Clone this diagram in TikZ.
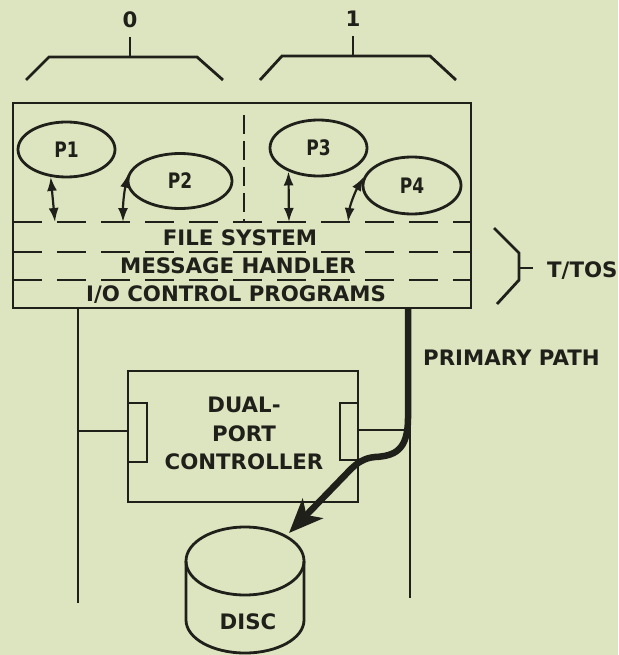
\documentclass[tikz,border=0pt]{standalone}
\usepackage{fontspec}
\setmainfont{DejaVu Sans}
\usetikzlibrary{shapes.geometric,arrows.meta}
\definecolor{bg}{RGB}{221,229,192}
\definecolor{ink}{RGB}{32,32,26}
\begin{document}
\begin{tikzpicture}[x=1pt,y=-1pt,
  every node/.style={text=ink, font=\fontsize{21.3}{28.5}\selectfont\bfseries, inner sep=0pt},
  ln/.style={draw=ink, line width=2.8pt},
  bus/.style={draw=ink, line width=2.3pt},
  proc/.style={ellipse, draw=ink, line width=2.8pt, inner sep=0pt},
  layer/.style={draw=ink, line width=2.6pt, dash pattern=on 29pt off 15pt},
  vsep/.style={draw=ink, line width=2.6pt, dash pattern=on 19pt off 7pt},
  twoway/.style={draw=ink, line width=2.2pt, {Latex[length=14pt,width=10pt]}-{Latex[length=14pt,width=10pt]}},
  primary/.style={draw=ink, line width=6.5pt, -{Stealth[length=34pt,width=28pt,inset=9pt]}},
]
\fill[bg] (0,0) rectangle (618,655);
\useasboundingbox (0,0) rectangle (618,655);

% processor labels and brackets
\node (n0) at (130,20) {0};
\node (n1) at (353,19) {1};
\draw[ln] ([yshift=-9pt]n0.south) -- (130,57);
\draw[ln] (26,80) -- (49,57) -- (197,57) -- (223,80);
\draw[ln] ([yshift=-9pt]n1.south) -- (353,56);
\draw[ln] (260,80) -- (282,56) -- (430,56) -- (456,80);

% main box
\node[ln, minimum width=458pt, minimum height=205pt] (main) at (242,205.5) {};
\draw[vsep] (244,115) -- (244,222);
\draw[layer] (13,222) -- (471,222);
\draw[layer] (13,252) -- (471,252);
\draw[layer] (13,280) -- (471,280);
\node[anchor=base] (fs) at (240,245) {FILE SYSTEM};
\node[anchor=base] (mh) at (238,273) {MESSAGE HANDLER};
\node[anchor=base] (io) at (236,301.5) {I/O CONTROL PROGRAMS};

% processes
\node[proc, minimum width=97pt, minimum height=55pt] (P1) at (66.5,149.5) {\scalebox{0.8}[1]{P1}};
\node[proc, minimum width=104pt, minimum height=55pt] (P2) at (180,181) {\scalebox{0.8}[1]{P2}};
\node[proc, minimum width=97pt, minimum height=56pt] (P3) at (318.5,148) {\scalebox{0.8}[1]{P3}};
\node[proc, minimum width=98pt, minimum height=57pt] (P4) at (412,185.5) {\scalebox{0.8}[1]{P4}};
\coordinate (a1) at (55,222);
\coordinate (a2) at (123,222);
\coordinate (a3) at (289,222);
\coordinate (a4) at (348,222);
\draw[twoway] (P1.240) -- (a1);
\draw[twoway] (a2) .. controls (123,200) and (125,188) .. (P2.172);
\draw[twoway] (P3.218) -- (a3);
\draw[twoway] (a4) .. controls (350,205) and (355,192) .. (P4.170);

% T/TOS brace
\coordinate (bt) at (519,268);
\draw[ln] (494,228) -- (519,253) -- (519,280) -- (497,304);
\node[anchor=base west] (tt) at (547,277.5) {T/TOS};
\draw[ln] (bt) -- (533,268);

% primary path label
\node[anchor=base west] (pp) at (423,365) {PRIMARY PATH};

% controller
\node[ln, minimum width=230pt, minimum height=131pt] (ctl) at (243,436.5) {};
\node[ln, minimum width=19pt, minimum height=59pt] (pl) at (137.5,432.5) {};
\node[ln, minimum width=18pt, minimum height=57pt] (pr) at (349,431.5) {};
\node[align=center] (ctltext) at (244,433.7) {DUAL-\\PORT\\CONTROLLER};

% buses
\coordinate (lbtop) at (78,308);
\coordinate (lbbot) at (78,603);
\coordinate (lbj) at (78,431);
\coordinate (rbtop) at (410,308);
\coordinate (rbbot) at (410,598);
\coordinate (rbj) at (410,430);
\draw[bus] (lbtop) -- (lbbot);
\draw[bus] (lbj) -- (ctl.west |- lbj);
\draw[bus] (rbtop) -- (rbbot);
\draw[bus] (ctl.east |- rbj) -- (rbj);

% disc
\draw[ln] (186,561) -- (186,620) arc[start angle=180,end angle=0,x radius=59,y radius=33] -- (304,561);
\draw[ln] (245,561) ellipse [x radius=59, y radius=34];
\node[anchor=base] (disc) at (248,629) {DISC};
\coordinate (disctop) at (289,533);

% primary path
\coordinate (ppstart) at (408,309);
\draw[primary] (ppstart) -- (408,418) .. controls (408,450) and (395,456) .. (375,457)
   .. controls (364,458) and (357,463) .. (350,470) -- (disctop);
\end{tikzpicture}
\end{document}
